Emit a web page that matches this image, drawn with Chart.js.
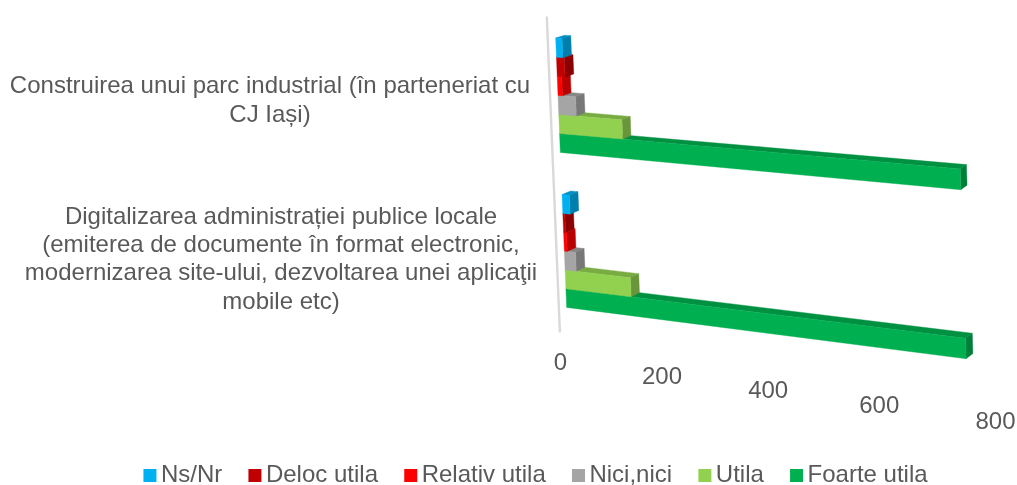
<!DOCTYPE html>
<html>
<head>
<meta charset="utf-8">
<style>
  html, body { margin: 0; padding: 0; background: #fff; }
  #wrap { width: 1017px; height: 485px; }
  #chart { filter: blur(0.4px); }
</style>
<script src="https://cdn.jsdelivr.net/npm/chart.js@4"></script>
</head>
<body>
<div id="wrap"><canvas id="chart" width="1017" height="485"></canvas></div>
<script>
const categories = [
  ['Construirea unui parc industrial (în parteneriat cu', 'CJ Iași)'],
  ['Digitalizarea administrației publice locale', '(emiterea de documente în format electronic,', 'modernizarea site-ului, dezvoltarea unei aplicaţii', 'mobile etc)']
];
const seriesNames = ['Ns/Nr', 'Deloc utila', 'Relativ utila', 'Nici,nici', 'Utila', 'Foarte utila'];
const seriesColors = ['#00B0F0', '#C00000', '#FF0000', '#A5A5A5', '#92D050', '#00B050'];
const nsNr = [13, 15];
const delocUtila = [16, 4];
const relativUtila = [9, 6];
const niciNici = [36, 23];
const utila = [128, 133];
const foarteUtila = [755, 757];
const seriesValues = [nsNr, delocUtila, relativUtila, niciNici, utila, foarteUtila];
const xTicks = { min: 0, max: 800, step: 200 };

const TEXT = '#595959';
const FONT = '24px "Liberation Sans", Arial, sans-serif';

// where the plot plane lands in the picture: TL, TR, BR, BL
const plane = [[554.8, 16.8], [983.6, 43.4], [991.6, 384.7], [567.5, 328.2]];
// depth of the bars at the same corners
const depth = [[8.8, -2.7], [5.5, -4], [6.7, -5.3], [8.6, -4.2]];
const labelCenters = [270, 281];
const labelMiddles = [101, 259.5];
const lineGap = 28.3;

// unit square -> quad (projective)
function makeHomography(q) {
  const [[x0, y0], [x1, y1], [x2, y2], [x3, y3]] = q;
  const dx1 = x1 - x2, dx2 = x3 - x2, sx = x0 - x1 + x2 - x3;
  const dy1 = y1 - y2, dy2 = y3 - y2, sy = y0 - y1 + y2 - y3;
  const den = dx1 * dy2 - dx2 * dy1;
  const g = (sx * dy2 - dx2 * sy) / den, h = (dx1 * sy - sx * dy1) / den;
  const a = x1 - x0 + g * x1, b = x3 - x0 + h * x3;
  const d = y1 - y0 + g * y1, e = y3 - y0 + h * y3;
  return (u, v) => {
    const w = g * u + h * v + 1;
    return [(a * u + b * v + x0) / w, (d * u + e * v + y0) / w];
  };
}
const toPlane = makeHomography(plane);

function project(area, px, py, z) {
  const u = (px - area.left) / area.width, v = (py - area.top) / area.height;
  const p = toPlane(u, v);
  const mix = i => (1 - v) * ((1 - u) * depth[0][i] + u * depth[1][i]) + v * ((1 - u) * depth[3][i] + u * depth[2][i]);
  return [p[0] + z * mix(0), p[1] + z * mix(1)];
}

function shade(hex, f) {
  const n = parseInt(hex.slice(1), 16);
  return `rgb(${Math.round((n >> 16) * f)},${Math.round(((n >> 8) & 255) * f)},${Math.round((n & 255) * f)})`;
}

function poly(ctx, pts, color) {
  ctx.beginPath();
  pts.forEach((p, i) => i ? ctx.lineTo(p[0], p[1]) : ctx.moveTo(p[0], p[1]));
  ctx.closePath();
  ctx.fillStyle = color;
  ctx.strokeStyle = color;
  ctx.lineWidth = 0.4;
  ctx.fill();
  ctx.stroke();
}

// legend marker: the square sits right of centre so it ends up close to its text
function swatch(color) {
  const c = document.createElement('canvas');
  c.width = 20;
  c.height = 13;
  const g = c.getContext('2d');
  g.fillStyle = color;
  g.fillRect(5, 0, 13, 13);
  return c;
}

const bars3d = {
  id: 'bars3d',
  beforeDraw(chart) {
    const { ctx, chartArea: a } = chart;
    const p0 = project(a, a.left, a.top, -1), p1 = project(a, a.left, a.bottom, -1);
    ctx.save();
    ctx.strokeStyle = '#D9D9D9';
    ctx.lineWidth = 2.4;
    ctx.beginPath();
    ctx.moveTo(p0[0] + 0.8, p0[1] - 3);
    ctx.lineTo(p1[0] + 1, p1[1]);
    ctx.stroke();
    ctx.restore();
  },
  // replaces the flat bar with three projected faces
  beforeDatasetDraw(chart, args) {
    const { ctx, chartArea: a } = chart;
    const color = chart.data.datasets[args.index].backgroundColor;
    ctx.save();
    args.meta.data.forEach(el => {
      const b = el.getProps(['x', 'y', 'base', 'height'], true);
      const t = b.y - b.height / 2, btm = b.y + b.height / 2;
      const ft0 = project(a, b.base, t, 0), ft1 = project(a, b.x, t, 0);
      const fb0 = project(a, b.base, btm, 0), fb1 = project(a, b.x, btm, 0);
      const bt0 = project(a, b.base, t, 1), bt1 = project(a, b.x, t, 1), bb1 = project(a, b.x, btm, 1);
      poly(ctx, [ft0, bt0, bt1, ft1], shade(color, 0.82));
      poly(ctx, [ft1, bt1, bb1, fb1], shade(color, 0.72));
      poly(ctx, [ft0, ft1, fb1, fb0], color);
    });
    ctx.restore();
    return false;
  },
  afterDraw(chart) {
    const { ctx, chartArea: a, scales } = chart;
    ctx.save();
    ctx.font = FONT;
    ctx.fillStyle = TEXT;
    ctx.textAlign = 'center';
    ctx.textBaseline = 'middle';
    // value ticks follow the floor edge
    scales.x.ticks.forEach(t => {
      const px = scales.x.getPixelForValue(t.value);
      const u = (px - a.left) / a.width;
      const p = project(a, px, a.bottom, -1);
      ctx.fillText(t.label, p[0] + 1.6 + 9 * u, p[1] + 31 + 1.5 * u);
    });
    categories.forEach((lines, i) => {
      const y0 = labelMiddles[i] - (lines.length - 1) * lineGap / 2;
      lines.forEach((line, j) => ctx.fillText(line, labelCenters[i], y0 + j * lineGap));
    });
    ctx.restore();
  }
};

new Chart(document.getElementById('chart'), {
  type: 'bar',
  data: {
    labels: categories,
    datasets: seriesNames.map((name, i) => ({
      label: name,
      data: seriesValues[i],
      backgroundColor: seriesColors[i],
      categoryPercentage: 0.73,
      barPercentage: 1
    }))
  },
  options: {
    indexAxis: 'y',
    responsive: false,
    animation: false,
    layout: { padding: { left: 58.5, bottom: -12 } },
    scales: {
      x: { min: xTicks.min, max: xTicks.max, ticks: { stepSize: xTicks.step, display: false }, grid: { display: false }, border: { display: false } },
      y: { ticks: { display: false }, grid: { display: false }, border: { display: false } }
    },
    plugins: {
      tooltip: { enabled: false },
      legend: {
        position: 'bottom',
        labels: {
          color: TEXT,
          font: { family: '"Liberation Sans", Arial, sans-serif', size: 24 },
          usePointStyle: true,
          boxWidth: 1,
          padding: 30.7,
          generateLabels: c => c.data.datasets.map((ds, i) => ({
            text: ds.label,
            fillStyle: ds.backgroundColor,
            pointStyle: swatch(ds.backgroundColor),
            lineWidth: 0,
            fontColor: TEXT,
            datasetIndex: i
          }))
        }
      }
    }
  },
  plugins: [bars3d]
});
</script>
</body>
</html>
